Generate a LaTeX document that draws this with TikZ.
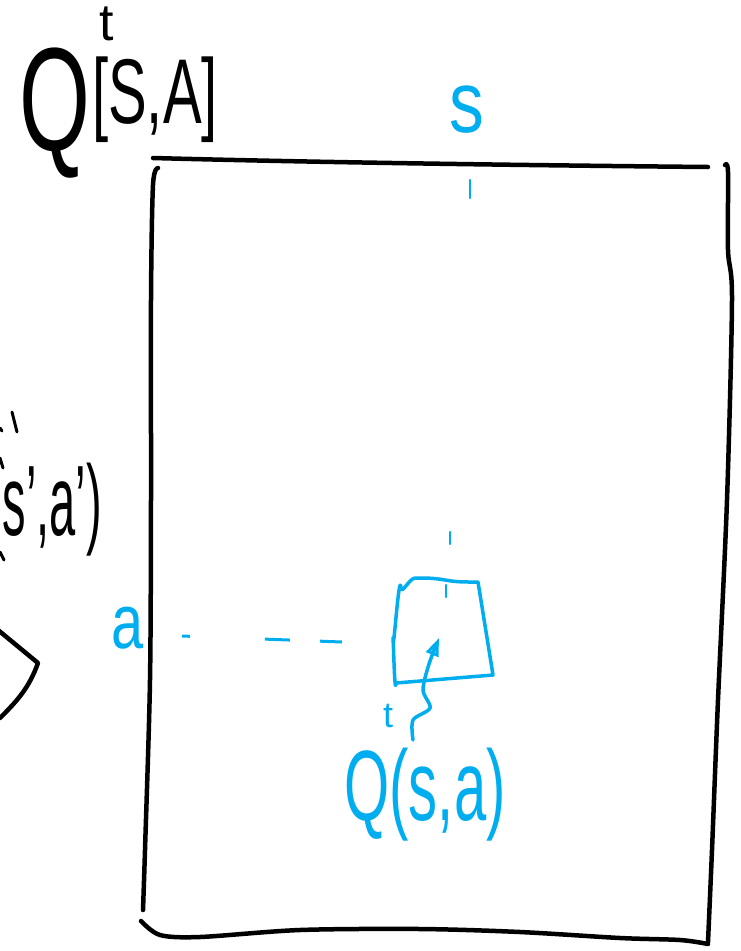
\documentclass[tikz,border=0pt]{standalone}
\usepackage{fontspec}
\setmainfont{Liberation Sans}
\usetikzlibrary{arrows.meta}
\definecolor{hblue}{RGB}{0,174,239}
\begin{document}
\begin{tikzpicture}[x=1pt,y=-1pt,
  ink/.style={line width=4.5pt,line cap=round,line join=round},
  bink/.style={hblue,line width=3.5pt,line cap=round,line join=round},
  lbl/.style={inner sep=0pt,outer sep=0pt}]
\useasboundingbox (0,0) rectangle (741,951);
% title
\node[lbl,anchor=base,xscale=0.62] (tq) at (55,150) {\fontsize{147}{150}\selectfont Q};
\node[lbl,anchor=center] (tt) at (107,24) {\fontsize{52}{54}\selectfont t};
\node[lbl,anchor=center,xscale=0.63] (tsa) at (155,100) {\fontsize{92}{96}\selectfont [S,A]};
% big rectangle
\draw[ink] (153,158) .. controls (300,162) and (500,165) .. (708,167);
\draw[ink] plot[smooth] coordinates {(158,168)(153,185)(151,300)(151,500)(150,680)(145,850)(143,910)};
\draw[ink] plot[smooth] coordinates {(141,921)(160,935)(200,937)(300,930)(420,929)(520,932)(620,938)(680,940)(708,944)};
\draw[ink] plot[smooth] coordinates {(725,165)(728,172)(728,250)(732,300)(727,500)(718,700)(712,850)(708,942)};
% blue labels
\node[lbl,text=hblue,xscale=0.8] (s) at (467,110) {\fontsize{87}{90}\selectfont s};
\node[lbl,text=hblue,xscale=0.75] (a) at (128,628) {\fontsize{77}{80}\selectfont a};
\node[lbl,text=hblue,anchor=base,xscale=0.58] (qsa) at (425,820) {\fontsize{100}{104}\selectfont Q(s,a)};
\node[lbl,text=hblue] (qt) at (388,716) {\fontsize{36}{38}\selectfont t};
% ticks
\draw[bink,line width=2.5pt] (470,180) -- (470,198);
\draw[bink,line width=2.5pt] (450,532) -- (450,544);
\draw[bink,line width=2.5pt] (446,585) -- (446,597);
% dashed line
\draw[bink,line width=3pt,line cap=butt,dash pattern=on 8pt off 75pt on 25pt off 30pt on 22pt off 100pt] (182,636) -- (342,642);
% small box
\draw[bink] (401,588) to[out=-80,in=190] (415,578) to[out=0,in=170] (445,580) to[out=-10,in=180] (478,582) -- (493,675) -- (396,683) to[out=-95,in=90] (393,640) to[out=-90,in=95] (401,588) -- cycle;
% arrow
\draw[bink,-{Triangle[open,length=18pt,width=13pt,line width=3pt]}] plot[smooth] coordinates {(413,740)(413,720)(430,708)(423,690)(429,664)(439,638)};
% left partial content
\node[lbl,anchor=east,xscale=0.47] (sa) at (102,510) {\fontsize{100}{104}\selectfont s',a')};
\draw[ink,line width=3pt] (0,458) -- (3,468);
\draw[ink,line width=3pt] (0,552) -- (4,560);
\draw[ink,line width=3pt] (12,412) -- (17,432);
\draw[ink,line width=3pt] (0,428) -- (2,431);
\draw[ink] (-2,630) -- (38,663) to[out=250,in=45] (0,718);
\end{tikzpicture}
\end{document}
